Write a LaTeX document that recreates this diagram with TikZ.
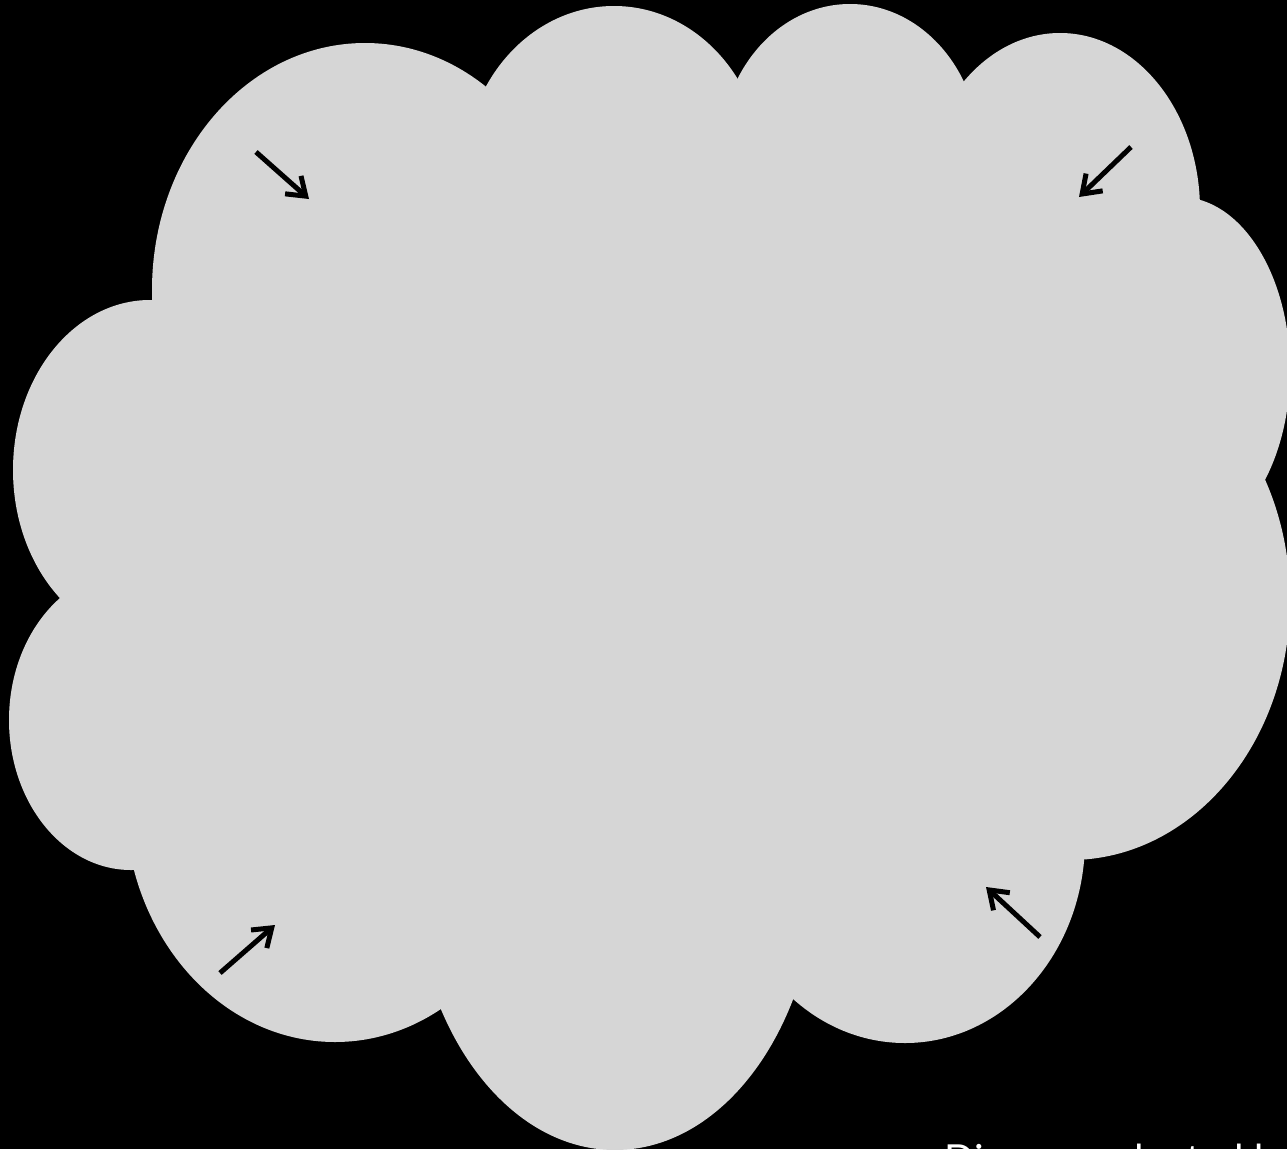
\documentclass[tikz,border=0pt]{standalone}
\usepackage{fontspec}
\setmainfont{Lato}
\usetikzlibrary{arrows.meta}
\definecolor{cloudgrey}{HTML}{D6D6D6}
\tikzset{
  inarrow/.style={line width=5pt, -{Straight Barb[length=17pt,width=24pt,line width=5pt]}, black},
  lobe/.style={fill=cloudgrey}
}
\begin{document}
\begin{tikzpicture}[x=1pt,y=-1pt]
\useasboundingbox (0,0) rectangle (1287,1149);
\clip (0,0) rectangle (1287,1149);
\fill[black] (0,0) rectangle (1287,1149);
% cloud lobes
\fill[lobe] (365,290) ellipse [x radius=213, y radius=247];
\fill[lobe] (614,174) ellipse [x radius=150, y radius=168];
\fill[lobe] (850,154) ellipse [x radius=130, y radius=150];
\fill[lobe] (1060,210) ellipse [x radius=140, y radius=177];
\fill[lobe] (1180,370) ellipse [x radius=110, y radius=173];
\fill[lobe] (1070,600) ellipse [x radius=220, y radius=260];
\fill[lobe] (905,840) ellipse [x radius=180, y radius=203];
\fill[lobe] (615,860) ellipse [x radius=203, y radius=290];
\fill[lobe] (335,800) ellipse [x radius=210, y radius=242];
\fill[lobe] (131,720) ellipse [x radius=122, y radius=150];
\fill[lobe] (150,470) ellipse [x radius=137, y radius=170];
\fill[lobe] (160,300) -- (485,95) -- (739,82) -- (960,86) -- (1195,200)
  -- (1262,478) -- (1078,855) -- (797,995) -- (440,1008) -- (135,865)
  -- (64,590) -- cycle;
% arrows
\coordinate (a1s) at (256,152); \coordinate (a1e) at (309,199);
\coordinate (a2s) at (1131,147); \coordinate (a2e) at (1079,197);
\coordinate (a3s) at (220,973); \coordinate (a3e) at (275,925);
\coordinate (a4s) at (1040,937); \coordinate (a4e) at (986,887);
\draw[inarrow] (a1s) -- (a1e);
\draw[inarrow] (a2s) -- (a2e);
\draw[inarrow] (a3s) -- (a3e);
\draw[inarrow] (a4s) -- (a4e);
% caption (cut off at the bottom edge, as in the reference)
\node[anchor=base west, inner sep=0, text=white, font=\fontsize{40}{48}\selectfont] (cap) at (944,1173) {Diagram adapted by};
\end{tikzpicture}
\end{document}
